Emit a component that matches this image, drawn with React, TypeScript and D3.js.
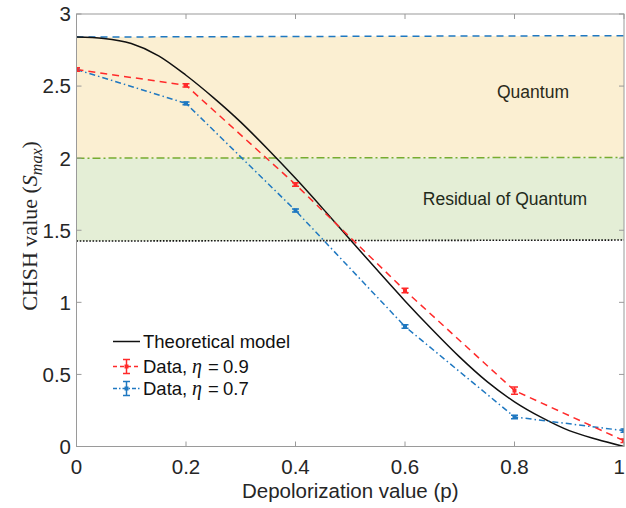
import React from "react";
import * as d3 from "d3";

const pValues = [0, 0.2, 0.4, 0.6, 0.8, 1];
const eta09 = [2.615, 2.505, 1.818, 1.082, 0.388, 0.04];
const eta09Err = [0.012, 0.012, 0.012, 0.015, 0.025, 0.012];
const eta07 = [2.615, 2.38, 1.637, 0.832, 0.205, 0.11];
const eta07Err = [0.01, 0.01, 0.01, 0.012, 0.012, 0.012];

const theoryP = [0, 0.05, 0.1, 0.15, 0.2, 0.25, 0.3, 0.35, 0.4, 0.45, 0.5, 0.55, 0.6, 0.65, 0.7, 0.75, 0.8, 0.85, 0.9, 0.95, 1];
const theoryS = [2.84, 2.83, 2.795, 2.71, 2.575, 2.42, 2.25, 2.06, 1.86, 1.65, 1.434, 1.22, 1.01, 0.81, 0.62, 0.45, 0.31, 0.2, 0.11, 0.05, 0.0];

const refP = [0, 1];
const tsirelsonLine = [2.84, 2.85];
const classicalLine = [2.0, 2.005];
const residualLine = [1.425, 1.432];

const xTicks = [0, 0.2, 0.4, 0.6, 0.8, 1];
const xTickLabels = ["0", "0.2", "0.4", "0.6", "0.8", "1"];
const yTicks = [0, 0.5, 1, 1.5, 2, 2.5, 3];
const yTickLabels = ["0", "0.5", "1", "1.5", "2", "2.5", "3"];

const W = 626, H = 508;
const left = 76.5, right = 624, top = 14, bottom = 446.5;

const RED = "#ff2a2a";
const BLUE = "#1f78c1";
const GREEN = "#77ac30";
const SANS = "'Liberation Sans', Arial, Helvetica, sans-serif";
const SERIF = "'Liberation Serif', 'Times New Roman', serif";

export default function App() {
  const x = d3.scaleLinear().domain([0, 1]).range([left, right]);
  const y = d3.scaleLinear().domain([0, 3]).range([bottom, top]);
  const line = d3.line<[number, number]>().x(d => x(d[0])).y(d => y(d[1]));
  const smooth = d3.line<[number, number]>().x(d => x(d[0])).y(d => y(d[1])).curve(d3.curveMonotoneX);
  const zip = (a: number[], b: number[]) => a.map((v, i) => [v, b[i]] as [number, number]);

  const area = (lo: number[], hi: number[]) =>
    d3.area<number>().x(p => x(p)).y0((p, i) => y(lo[i])).y1((p, i) => y(hi[i]))(refP) || "";

  const errMarks = (vals: number[], errs: number[], color: string) =>
    pValues.map((p, i) => {
      const cx = x(p), cy = y(vals[i]);
      const y1 = y(vals[i] + errs[i]), y2 = y(vals[i] - errs[i]);
      return (
        <g key={i} stroke={color} strokeWidth={1.5}>
          <line x1={cx} x2={cx} y1={y1} y2={y2} />
          <line x1={cx - 3.5} x2={cx + 3.5} y1={y1} y2={y1} />
          <line x1={cx - 3.5} x2={cx + 3.5} y1={y2} y2={y2} />
          <rect x={cx - 2} y={cy - 2} width={4} height={4} fill={color} stroke="none" />
        </g>
      );
    });

  const legendMarker = (ly: number, color: string, dash: string) => (
    <g stroke={color} strokeWidth={1.5}>
      <line x1={113} x2={140} y1={ly} y2={ly} strokeDasharray={dash} />
      <line x1={126.5} x2={126.5} y1={ly - 7} y2={ly + 7} />
      <line x1={123} x2={130} y1={ly - 7} y2={ly - 7} />
      <line x1={123} x2={130} y1={ly + 7} y2={ly + 7} />
      <rect x={124.5} y={ly - 2} width={4} height={4} fill={color} stroke="none" />
    </g>
  );

  const legendData = (ly: number, val: string) => (
    <g fontFamily={SANS} fontSize={18.5} fill="#111">
      <text x={143} y={ly}>Data,</text>
      <text x={192} y={ly} fontFamily={SERIF} fontStyle="italic" fontSize={20}>η</text>
      <text x={208} y={ly}>=</text>
      <text x={223} y={ly}>{val}</text>
    </g>
  );

  return (
    <svg width={W} height={H} style={{ position: "absolute", left: 0, top: 0, background: "#fff" }}>
      <defs>
        <clipPath id="plotclip">
          <rect x={left} y={top} width={right - left} height={bottom - top} />
        </clipPath>
      </defs>
      <g clipPath="url(#plotclip)">
        <path d={area(classicalLine, tsirelsonLine)} fill="#fbefd2" />
        <path d={area(residualLine, classicalLine)} fill="#e4eed6" />
        <path d={line(zip(refP, tsirelsonLine)) || ""} fill="none" stroke={BLUE} strokeWidth={1.5} strokeDasharray="7 5" />
        <path d={line(zip(refP, classicalLine)) || ""} fill="none" stroke={GREEN} strokeWidth={1.5} strokeDasharray="8 3 2 3" />
        <path d={line(zip(refP, residualLine)) || ""} fill="none" stroke="#111" strokeWidth={1.6} strokeDasharray="1.6 1.6" />
        <path d={smooth(zip(theoryP, theoryS)) || ""} fill="none" stroke="#111" strokeWidth={1.5} />
        <path d={line(zip(pValues, eta07)) || ""} fill="none" stroke={BLUE} strokeWidth={1.5} strokeDasharray="6 3 1.5 3" />
        <path d={line(zip(pValues, eta09)) || ""} fill="none" stroke={RED} strokeWidth={1.5} strokeDasharray="7 5" />
        {errMarks(eta07, eta07Err, BLUE)}
        {errMarks(eta09, eta09Err, RED)}
      </g>

      {/* axes box */}
      <rect x={left} y={top} width={right - left} height={bottom - top} fill="none" stroke="#9a9a9a" strokeWidth={1} />
      {xTicks.map((t, i) => (
        <g key={"xt" + i}>
          <line x1={x(t)} x2={x(t)} y1={bottom} y2={bottom - 5} stroke="#9a9a9a" />
          <line x1={x(t)} x2={x(t)} y1={top} y2={top + 5} stroke="#9a9a9a" />
          <text x={i === xTicks.length - 1 ? W - 1 : x(t)} y={474} textAnchor={i === xTicks.length - 1 ? "end" : "middle"} fontFamily={SANS} fontSize={20.5} fill="#262626">{xTickLabels[i]}</text>
        </g>
      ))}
      {yTicks.map((t, i) => (
        <g key={"yt" + i}>
          <line x1={left} x2={left + 5} y1={y(t)} y2={y(t)} stroke="#9a9a9a" />
          <line x1={right} x2={right - 5} y1={y(t)} y2={y(t)} stroke="#9a9a9a" />
          <text x={71} y={y(t)} dy="0.36em" textAnchor="end" fontFamily={SANS} fontSize={20.5} fill="#262626">{yTickLabels[i]}</text>
        </g>
      ))}

      <text x={(left + right) / 2} y={498} textAnchor="middle" fontFamily={SANS} fontSize={20.5} fill="#262626">
        Depolorization value (p)
      </text>
      <text transform="translate(37,226) rotate(-90)" textAnchor="middle" fontFamily={SERIF} fontSize={22} fill="#262626">
        CHSH value (<tspan fontStyle="italic">S</tspan>
        <tspan fontStyle="italic" fontSize={16} dy={5}>max</tspan>
        <tspan dy={-5}>)</tspan>
      </text>

      <text x={533} y={98} textAnchor="middle" fontFamily={SANS} fontSize={17.5} fill="#2a2a1a">Quantum</text>
      <text x={505} y={205} textAnchor="middle" fontFamily={SANS} fontSize={17.5} fill="#1f2a1a">Residual of Quantum</text>

      {/* legend */}
      <line x1={113} x2={140} y1={341.5} y2={341.5} stroke="#111" strokeWidth={1.5} />
      <text x={143} y={348} fontFamily={SANS} fontSize={18.5} fill="#111">Theoretical model</text>
      {legendMarker(366.5, RED, "4 3")}
      {legendData(372.5, "0.9")}
      {legendMarker(388.5, BLUE, "4 2 1.5 2")}
      {legendData(394.5, "0.7")}
    </svg>
  );
}
